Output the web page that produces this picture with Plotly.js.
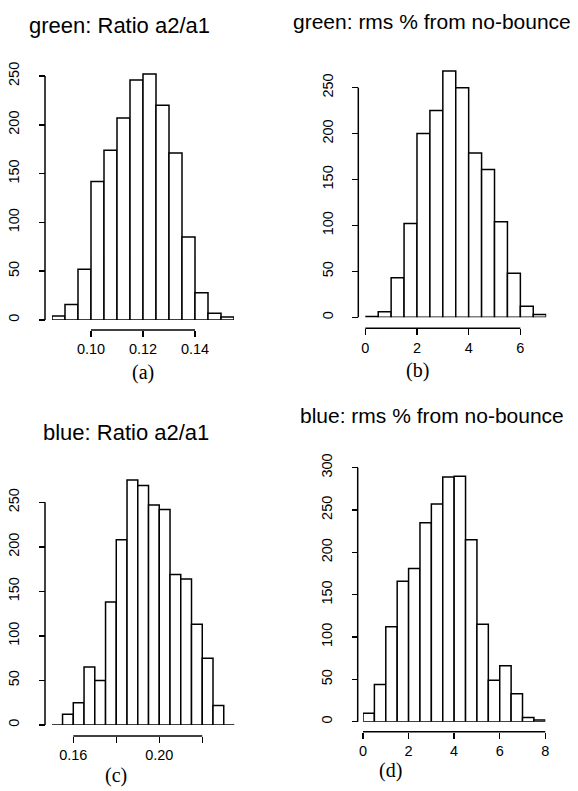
<!DOCTYPE html>
<html>
<head>
<meta charset="utf-8">
<script src="https://cdn.plot.ly/plotly-3.0.1.min.js"></script>
<style>html,body{margin:0;padding:0;background:#fff;}#chart{width:578px;height:791px;}</style>
</head>
<body>
<div id="chart"></div>
<script>
// ---- data ----
const greenRatioBreaks = [0.085,0.090,0.095,0.100,0.105,0.110,0.115,0.120,0.125,0.130,0.135,0.140,0.145,0.150,0.155];
const greenRatioCounts = [4,16,52,142,174,207,246,252,220,171,85,28,7,3];

const greenRmsBreaks = [0,0.5,1,1.5,2,2.5,3,3.5,4,4.5,5,5.5,6,6.5,7];
const greenRmsCounts = [1,6,43,102,200,225,268,250,179,161,104,48,12,3];

const blueRatioBreaks = [0.150,0.155,0.160,0.165,0.170,0.175,0.180,0.185,0.190,0.195,0.200,0.205,0.210,0.215,0.220,0.225,0.230,0.235];
const blueRatioCounts = [0,12,25,65,50,138,208,275,269,247,242,169,164,113,75,22,0];

const blueRmsBreaks = [0,0.5,1,1.5,2,2.5,3,3.5,4,4.5,5,5.5,6,6.5,7,7.5,8];
const blueRmsCounts = [10,44,112,166,181,235,257,289,290,215,115,49,66,33,5,2];

const greenRatioTicks = [0.10,0.12,0.14];
const greenRatioTickText = ['0.10','0.12','0.14'];
const greenRmsTicks = [0,2,4,6];
const greenRmsTickText = ['0','2','4','6'];
const blueRatioTicks = [0.16,0.18,0.20,0.22];
const blueRatioTickText = ['0.16','','0.20',''];
const blueRmsTicks = [0,2,4,6,8];
const blueRmsTickText = ['0','2','4','6','8'];

const countTicks250 = [0,50,100,150,200,250];
const countTicks300 = [0,50,100,150,200,250,300];

const titles = ['green: Ratio a2/a1','green: rms % from no-bounce','blue: Ratio a2/a1','blue: rms % from no-bounce'];
const captions = ['(a)','(b)','(c)','(d)'];

// ---- layout geometry (pixels) ----
const W = 578, H = 791;
const px = p => p / W;
const py = p => 1 - p / H;

const panels = [
  {breaks:greenRatioBreaks, counts:greenRatioCounts, xt:greenRatioTicks, xtt:greenRatioTickText, yt:countTicks250,
   xr:[0.085,0.155], yr:[0,270], xpx:[52,234], ypx:[320,56.5], yAxisX:45, xAxisY:330,
   title:{x:119,y:26,size:22}, cap:{x:143,y:373}},
  {breaks:greenRmsBreaks, counts:greenRmsCounts, xt:greenRmsTicks, xtt:greenRmsTickText, yt:countTicks250,
   xr:[0,7], yr:[0,280], xpx:[365.3,546.2], ypx:[317.3,60.1], yAxisX:358.3, xAxisY:328.3,
   title:{x:432,y:22,size:21}, cap:{x:417,y:370}},
  {breaks:blueRatioBreaks, counts:blueRatioCounts, xt:blueRatioTicks, xtt:blueRatioTickText, yt:countTicks250,
   xr:[0.15,0.235], yr:[0,290], xpx:[51.8,234.5], ypx:[725,466.7], yAxisX:45, xAxisY:736,
   title:{x:126,y:432,size:22}, cap:{x:116,y:775}},
  {breaks:blueRmsBreaks, counts:blueRmsCounts, xt:blueRmsTicks, xtt:blueRmsTickText, yt:countTicks300,
   xr:[0,8], yr:[0,310], xpx:[363,545.3], ypx:[721.7,459.2], yAxisX:357.7, xAxisY:731.7,
   title:{x:432,y:415,size:21}, cap:{x:390,y:770}}
];

const sans = 'Liberation Sans, Arial, Helvetica, sans-serif';
const lineW = 1.5;
const traces = [];
const layout = {
  width: W, height: H,
  margin: {l:0, r:0, t:0, b:0},
  paper_bgcolor: '#ffffff', plot_bgcolor: 'rgba(0,0,0,0)',
  showlegend: false, hovermode: false,
  font: {family: sans, size: 14, color: '#000'},
  shapes: [], annotations: []
};

panels.forEach((p, i) => {
  const n = i + 1;
  const xa = n === 1 ? 'x' : 'x' + n, ya = n === 1 ? 'y' : 'y' + n;
  const mids = [], widths = [];
  for (let k = 0; k < p.counts.length; k++) {
    mids.push((p.breaks[k] + p.breaks[k+1]) / 2);
    widths.push(p.breaks[k+1] - p.breaks[k]);
  }
  traces.push({type:'bar', x:mids, y:p.counts, width:widths, xaxis:xa, yaxis:ya,
    marker:{color:'#ffffff', line:{color:'#000', width:lineW}}});

  const xdom = [px(p.xpx[0]), px(p.xpx[1])];
  const ydom = [py(p.ypx[0]), py(p.ypx[1])];
  const xAxisPos = py(p.xAxisY), yAxisPos = px(p.yAxisX);
  layout['xaxis' + (n === 1 ? '' : n)] = {
    domain: xdom, range: p.xr, anchor: 'free', position: xAxisPos,
    showgrid:false, zeroline:false, showline:false, fixedrange:true,
    tickmode:'array', tickvals:p.xt, ticktext:p.xtt,
    ticks:'outside', ticklen:6, tickwidth:lineW, tickcolor:'#000',
    tickfont:{family:sans, size:14.5, color:'#000'}
  };
  layout['yaxis' + (n === 1 ? '' : n)] = {
    domain: ydom, range: p.yr, anchor: 'free', position: yAxisPos,
    showgrid:false, zeroline:false, showline:false, fixedrange:true,
    tickmode:'array', tickvals:p.yt, ticktext:p.yt.map(String), tickangle:-90,
    ticks:'outside', ticklen:6, tickwidth:lineW, tickcolor:'#000',
    ticklabelstandoff:14,
    tickfont:{family:sans, size:14.5, color:'#000'}
  };
  // axis lines spanning only the tick range (R style)
  const toPx = v => xdom[0] + (v - p.xr[0]) / (p.xr[1] - p.xr[0]) * (xdom[1] - xdom[0]);
  const toPy = v => ydom[0] + (v - p.yr[0]) / (p.yr[1] - p.yr[0]) * (ydom[1] - ydom[0]);
  layout.shapes.push({type:'line', xref:'paper', yref:'paper',
    x0:toPx(p.xt[0]), x1:toPx(p.xt[p.xt.length-1]), y0:xAxisPos, y1:xAxisPos,
    line:{color:'#000', width:lineW}});
  layout.shapes.push({type:'line', xref:'paper', yref:'paper',
    x0:yAxisPos, x1:yAxisPos, y0:toPy(p.yt[0]), y1:toPy(p.yt[p.yt.length-1]),
    line:{color:'#000', width:lineW}});

  layout.annotations.push({text:titles[i], xref:'paper', yref:'paper',
    x:px(p.title.x), y:py(p.title.y), xanchor:'center', yanchor:'middle', showarrow:false,
    font:{family:sans, size:p.title.size, color:'#000'}});
  layout.annotations.push({text:captions[i], xref:'paper', yref:'paper',
    x:px(p.cap.x), y:py(p.cap.y), xanchor:'center', yanchor:'middle', showarrow:false,
    font:{family:'Liberation Serif, Times New Roman, serif', size:20, color:'#000'}});
});

Plotly.newPlot('chart', traces, layout, {staticPlot:true, displayModeBar:false});
</script>
</body>
</html>
